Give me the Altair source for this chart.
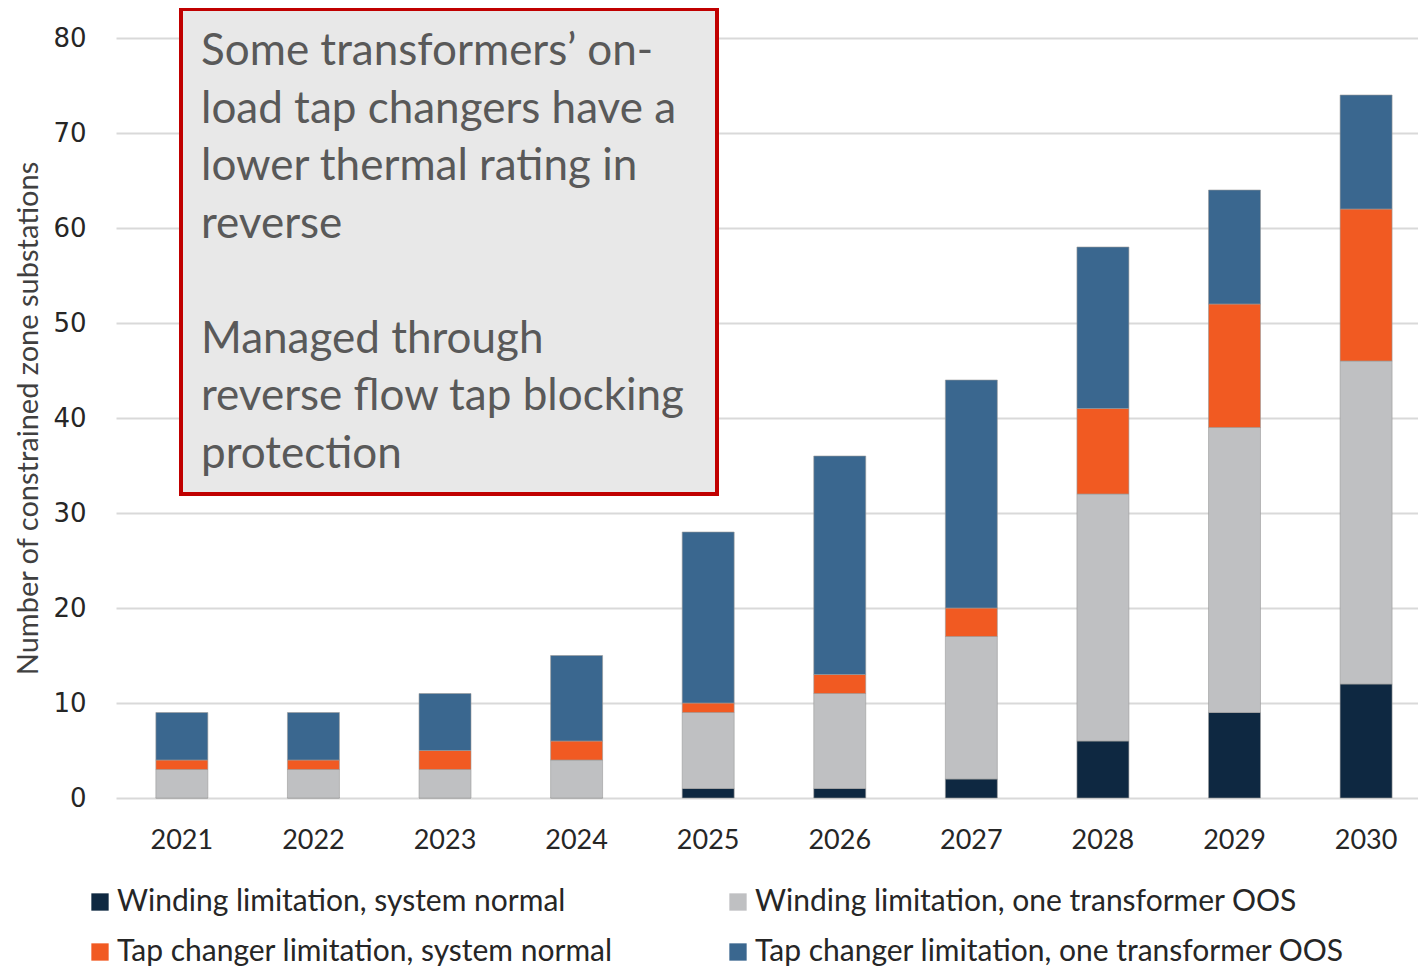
import altair as alt
import pandas as pd

years = ["2021", "2022", "2023", "2024", "2025", "2026", "2027", "2028", "2029", "2030"]
series = [
    "Winding limitation, system normal",
    "Winding limitation, one transformer OOS",
    "Tap changer limitation, system normal",
    "Tap changer limitation, one transformer OOS",
]
winding_normal = [0, 0, 0, 0, 1, 1, 2, 6, 9, 12]
winding_oos = [3, 3, 3, 4, 8, 10, 15, 26, 30, 34]
tap_normal = [1, 1, 2, 2, 1, 2, 3, 9, 13, 16]
tap_oos = [5, 5, 6, 9, 18, 23, 24, 17, 12, 12]
colors = ["#0e2841", "#bfc0c2", "#f15a22", "#3a678f"]

note_top = [
    "Some transformers\u2019 on-",
    "load tap changers have a",
    "lower thermal rating in",
    "reverse",
]
note_bottom = [
    "Managed through",
    "reverse flow tap blocking",
    "protection",
]

rows = []
for i, y in enumerate(years):
    for k, (s, vals) in enumerate(zip(series, [winding_normal, winding_oos, tap_normal, tap_oos])):
        rows.append({"year": y, "series": s, "order": k, "value": vals[i]})
df = pd.DataFrame(rows)

FONT = "Lato"

bars = alt.Chart(df).mark_bar(stroke="#9a9a9a", strokeWidth=0.6).encode(
    x=alt.X("year:N", sort=years, title=None,
            scale=alt.Scale(paddingInner=0.605, paddingOuter=0.25, align=0.606),
            axis=alt.Axis(labelFontSize=27, labelColor="#262626", labelFont=FONT,
                          labelPadding=29, ticks=False, domain=False, grid=False, labelAngle=0)),
    y=alt.Y("value:Q", stack="zero", title="Number of constrained zone substations",
            scale=alt.Scale(domain=[0, 80]),
            axis=alt.Axis(values=[0, 10, 20, 30, 40, 50, 60, 70, 80], labelFontSize=26,
                          labelColor="#262626", labelFont="DejaVu Sans", labelPadding=30,
                          ticks=False, domain=False, gridColor="#d9d9d9", gridWidth=2,
                          titleFont=FONT, titleFontSize=29, titleFontWeight="normal",
                          titleColor="#404040", titlePadding=9)),
    color=alt.Color("series:N", sort=series, scale=alt.Scale(domain=series, range=colors),
                    legend=alt.Legend(title=None, orient="none", legendX=-31, legendY=849,
                                      columns=2, direction="horizontal", symbolType="square",
                                      symbolSize=300, symbolStrokeWidth=0, labelFont=FONT,
                                      labelFontSize=30, labelColor="#262626", columnPadding=110,
                                      rowPadding=20, labelLimit=800, symbolOffset=0,
                                      labelOffset=2)),
    order=alt.Order("order:Q", sort="ascending"),
)

box = alt.Chart(pd.DataFrame({"a": [0]})).mark_rect(
    fill="#e8e8e8", stroke="#c00000", strokeWidth=4
).encode(x=alt.value(65), x2=alt.value(601), y=alt.value(-29), y2=alt.value(456))

note_style = dict(align="left", baseline="top", font=FONT, fontSize=44, color="#595959",
                  lineHeight=57.5)
note1 = alt.Chart(pd.DataFrame({"t": [note_top]})).mark_text(**note_style).encode(
    x=alt.value(85), y=alt.value(-8), text="t")
note2 = alt.Chart(pd.DataFrame({"t": [note_bottom]})).mark_text(**note_style).encode(
    x=alt.value(85), y=alt.value(279.5), text="t")

chart = alt.layer(bars, box, note1, note2).properties(
    width=1302, height=760,
    autosize=alt.AutoSizeParams(type="none"),
    padding={"left": 108, "top": 30, "right": 0, "bottom": 168},
).configure_view(stroke=None)

chart.save("out.html", embed_options={"renderer": "svg", "actions": False})
